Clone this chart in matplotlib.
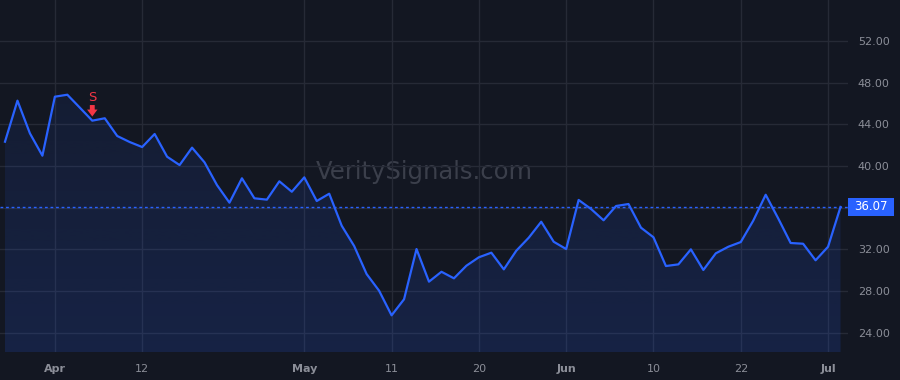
import numpy as np
import matplotlib
matplotlib.use("Agg")
import matplotlib.pyplot as plt
from matplotlib.patches import Polygon, Rectangle

# closing prices, one per bar
prices = [42.33, 46.27, 43.13, 40.99, 46.65, 46.84, 45.60, 44.35, 44.58, 42.88,
          42.30, 41.82, 43.07, 40.89, 40.09, 41.76, 40.35, 38.17, 36.48, 38.82,
          36.90, 36.77, 38.53, 37.53, 38.91, 36.64, 37.34, 34.27, 32.32, 29.63,
          28.03, 25.67, 27.21, 32.03, 28.90, 29.85, 29.22, 30.43, 31.24, 31.68,
          30.08, 31.87, 33.12, 34.65, 32.73, 32.03, 36.74, 35.87, 34.79, 36.16,
          36.35, 34.08, 33.16, 30.40, 30.56, 32.00, 30.02, 31.62, 32.25, 32.70,
          34.75, 37.24, 34.98, 32.61, 32.54, 30.95, 32.25, 36.07]

# time axis labels and the bar each one sits on
tick_bars = [4, 11, 24, 31, 38, 45, 52, 59, 66]
tick_labels = ["Apr", "12", "May", "11", "20", "Jun", "10", "22", "Jul"]
month_labels = ["Apr", "May", "Jun", "Jul"]

price_ticks = [24, 28, 32, 36, 40, 44, 48, 52]
last_price = 36.07
sell_bar = 7

bg = "#131722"
grid = "#262a36"
blue = "#2962ff"
red = "#f23645"
txt = "#8b8e98"

x = np.arange(len(prices))
y = np.array(prices)

fig = plt.figure(figsize=(9, 3.8), dpi=100, facecolor=bg)
ax = fig.add_axes([0, 28 / 380, 848 / 900, 352 / 380])
ax.set_facecolor(bg)

xlim = (-0.4, 67.6)
ylim = (22.15, 55.93)

# gradient fill under the line
grad = np.zeros((256, 1, 4))
grad[:, 0, 0] = 41 / 255
grad[:, 0, 1] = 98 / 255
grad[:, 0, 2] = 1.0
grad[:, 0, 3] = np.linspace(0.16, 0.05, 256)
img = ax.imshow(grad, aspect="auto", extent=[x[0], x[-1], ylim[1], ylim[0]],
                origin="upper", zorder=1)
poly = Polygon(np.vstack([[x[0], ylim[0]], np.column_stack([x, y]), [x[-1], ylim[0]]]),
               closed=True, facecolor="none", edgecolor="none")
ax.add_patch(poly)
img.set_clip_path(poly)
ax.set_xlim(*xlim)
ax.set_ylim(*ylim)

ax.plot(x, y, color=blue, lw=1.6, zorder=3)

# last price line + label on the price scale
ax.axhline(last_price, color=blue, lw=1, ls=(0, (2, 2)), zorder=2)
ytr = ax.get_yaxis_transform()
ax.add_patch(Rectangle((1.0, last_price - 0.86), 46 / 848, 1.72, transform=ytr,
                       fc=blue, ec="none", clip_on=False, zorder=5))
ax.text(1.0 + 23 / 848, last_price, f"{last_price:.2f}", transform=ytr,
        ha="center", va="center", color="white", fontsize=8.5, zorder=6, clip_on=False)

# sell signal
ax.text(sell_bar, 46.55, "S", color=red, ha="center", va="center", fontsize=9.5)
ax.annotate("", xy=(sell_bar, 44.75), xytext=(sell_bar, 45.85),
            arrowprops=dict(arrowstyle="simple,head_width=0.75,head_length=0.5,tail_width=0.35",
                            color=red, lw=0, shrinkA=0, shrinkB=0, mutation_scale=10))

# watermark
ax.text(0.5, 0.512, "VeritySignals.com", transform=ax.transAxes, ha="center", va="center",
        fontsize=17.5, color="#3b3f4b", zorder=0)

ax.yaxis.tick_right()
ax.set_yticks(price_ticks)
# the 36.00 label sits under the last price tag
ax.set_yticklabels(["" if v == 36 else f"{v:.2f}" for v in price_ticks])
ax.set_xticks(tick_bars)
ax.set_xticklabels(tick_labels)
for lab in ax.get_xticklabels():
    if lab.get_text() in month_labels:
        lab.set_fontweight("bold")
ax.tick_params(axis="y", length=0, pad=7, labelsize=8, labelcolor=txt)
ax.tick_params(axis="x", length=0, pad=9, labelsize=8, labelcolor=txt)
ax.grid(True, color=grid, lw=1)
ax.set_axisbelow(True)
for s in ax.spines.values():
    s.set_visible(False)

fig.savefig("out.png", dpi=100, facecolor=bg)
